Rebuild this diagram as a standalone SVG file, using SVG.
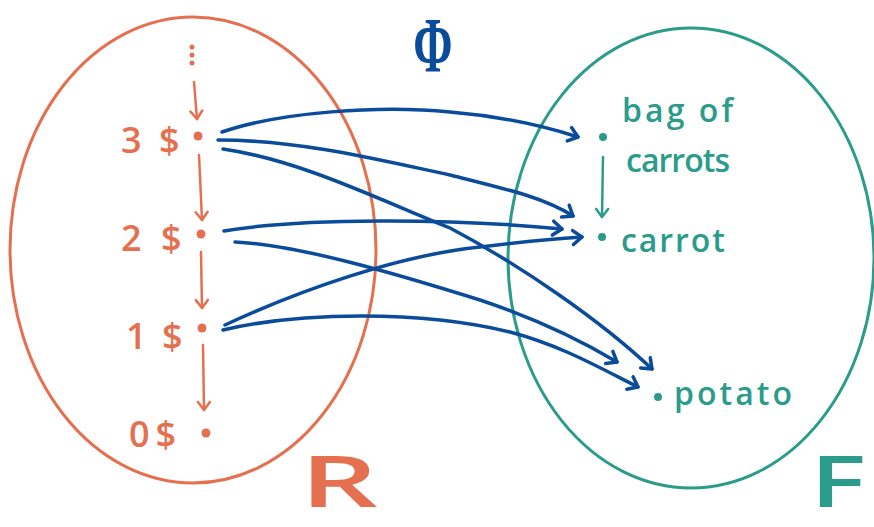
<svg xmlns="http://www.w3.org/2000/svg" width="874" height="527" viewBox="0 0 874 527">
<defs>
<style>
.or{fill:#e5704f}
.te{fill:#2b9c8c}
.bl{fill:#0b4c9a}
.lbl{font-family:"Open Sans","Noto Sans",sans-serif;font-weight:600}
.set{fill:none;stroke-width:3}
.conn{fill:none;stroke:#0b4c9a;stroke-width:3.5;stroke-linecap:round;stroke-linejoin:round}
.ordown{fill:none;stroke:#e5704f;stroke-width:2.5;stroke-linecap:round}
.tedown{fill:none;stroke:#2b9c8c;stroke-width:2.5;stroke-linecap:round}
</style>
<marker id="hb" markerUnits="userSpaceOnUse" markerWidth="16" markerHeight="16" refX="11" refY="8" orient="auto" overflow="visible">
<path d="M2,1 L11,8 L2,15" fill="none" stroke="#0b4c9a" stroke-width="3.5" stroke-linecap="round" stroke-linejoin="round"/>
</marker>
<marker id="ho" markerUnits="userSpaceOnUse" markerWidth="14" markerHeight="14" refX="9" refY="7" orient="auto" overflow="visible">
<path d="M1,1 L9,7 L1,13" fill="none" stroke="#e5704f" stroke-width="2.5" stroke-linecap="round" stroke-linejoin="round"/>
</marker>
<marker id="ht" markerUnits="userSpaceOnUse" markerWidth="14" markerHeight="14" refX="9" refY="7" orient="auto" overflow="visible">
<path d="M1,1 L9,7 L1,13" fill="none" stroke="#2b9c8c" stroke-width="2.5" stroke-linecap="round" stroke-linejoin="round"/>
</marker>
</defs>
<rect width="874" height="527" fill="#ffffff"/>

<g id="set-R">
<ellipse cx="193" cy="250" rx="183" ry="233" class="set" stroke="#e5704f"/>
<text x="300" y="507" class="lbl or" font-size="70" textLength="78" lengthAdjust="spacingAndGlyphs">R</text>
</g>
<g id="set-F">
<ellipse cx="691" cy="258" rx="183" ry="230" class="set" stroke="#2b9c8c"/>
<text x="810" y="507" class="lbl te" font-size="70" textLength="56" lengthAdjust="spacingAndGlyphs">F</text>
</g>
<g id="label-phi">
<text x="0" y="0" transform="translate(433,71) scale(0.6,1)" text-anchor="middle" font-family="Liberation Serif, serif" font-weight="bold" font-size="79" class="bl">Φ</text>
</g>

<g id="node-dots">
<circle cx="192" cy="47" r="2.5" class="or"/>
<circle cx="192" cy="55" r="2.5" class="or"/>
<circle cx="192" cy="63" r="2.5" class="or"/>
</g>
<g id="node-3">
<circle cx="198" cy="136" r="4.5" class="or"/>
<text x="121" y="153" class="lbl or" font-size="36" word-spacing="8">3 $</text>
</g>
<g id="node-2">
<circle cx="201" cy="234" r="4.5" class="or"/>
<text x="121" y="251" class="lbl or" font-size="36" word-spacing="10">2 $</text>
</g>
<g id="node-1">
<circle cx="202" cy="328" r="4.5" class="or"/>
<text x="126" y="349" class="lbl or" font-size="36" word-spacing="6">1 $</text>
</g>
<g id="node-0">
<circle cx="206" cy="433" r="4.5" class="or"/>
<text x="129" y="447" class="lbl or" font-size="36" letter-spacing="6">0$</text>
</g>

<g id="node-bag">
<circle cx="603" cy="137" r="4" class="te"/>
<text x="622" y="122" class="lbl te" font-size="32" textLength="111" lengthAdjust="spacing">bag of</text>
<text x="626" y="172" class="lbl te" font-size="32" textLength="104" lengthAdjust="spacing">carrots</text>
</g>
<g id="node-carrot">
<circle cx="602" cy="237" r="4" class="te"/>
<text x="621" y="252" class="lbl te" font-size="32" textLength="104" lengthAdjust="spacing">carrot</text>
</g>
<g id="node-potato">
<circle cx="658" cy="397" r="4" class="te"/>
<text x="674" y="405" class="lbl te" font-size="32" textLength="118" lengthAdjust="spacing">potato</text>
</g>

<g id="connectors">
<path class="ordown" d="M194,82 L197,119" marker-end="url(#ho)"/>
<path class="ordown" d="M199,155 L202,220" marker-end="url(#ho)"/>
<path class="ordown" d="M201,252 L202,308" marker-end="url(#ho)"/>
<path class="ordown" d="M203,345 L204,410" marker-end="url(#ho)"/>
<path class="tedown" d="M603,157 L602,217" marker-end="url(#ht)"/>

<path class="conn" d="M222,132 C280,112 380,105 450,112 C510,117 550,128 578,137" marker-end="url(#hb)"/>
<path class="conn" d="M218,140 C300,140 380,160 450,175 C510,190 545,198 573,216" marker-end="url(#hb)"/>
<path class="conn" d="M223,149 C300,160 380,200 450,228 C520,265 600,320 652,369" marker-end="url(#hb)"/>
<path class="conn" d="M224,231 C300,218 450,218 562,229" marker-end="url(#hb)"/>
<path class="conn" d="M225,325 C300,290 400,255 480,247 C520,242 550,239 582,237" marker-end="url(#hb)"/>
<path class="conn" d="M235,242 C300,245 400,275 480,300 C540,320 580,340 617,362" marker-end="url(#hb)"/>
<path class="conn" d="M223,330 C300,312 420,310 510,332 C560,345 600,368 638,387" marker-end="url(#hb)"/>
</g>
</svg>
